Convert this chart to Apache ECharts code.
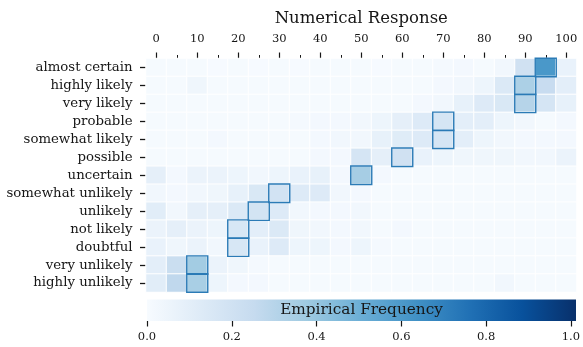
<!DOCTYPE html>
<html>
<head>
<meta charset="utf-8">
<script src="https://cdn.jsdelivr.net/npm/echarts@6/dist/echarts.min.js"></script>
<style>
  html, body { margin: 0; padding: 0; background: #ffffff; }
  #chart { width: 583px; height: 347px; }
</style>
</head>
<body>
<div id="chart"></div>
<script>
// Probability phrases, listed top to bottom
const phrases = [
  'almost certain', 'highly likely', 'very likely', 'probable',
  'somewhat likely', 'possible', 'uncertain', 'somewhat unlikely',
  'unlikely', 'not likely', 'doubtful', 'very unlikely', 'highly unlikely'
];

// Numerical response bins (0 to 100 in steps of 5)
const responseBins = ['0', '5', '10', '15', '20', '25', '30', '35', '40', '45', '50',
  '55', '60', '65', '70', '75', '80', '85', '90', '95', '100'];

// Empirical frequency of each response bin, one array per phrase
const freqAlmostCertain    = [0.01, 0.01, 0.01, 0.005, 0.01, 0.005, 0.01, 0.005, 0.01, 0.01, 0.01, 0.005, 0.01, 0.01, 0.015, 0.02, 0.01, 0.03, 0.20, 0.60, 0.07];
const freqHighlyLikely     = [0.01, 0.01, 0.04, 0.01, 0.01, 0.01, 0.01, 0.01, 0.01, 0.01, 0.01, 0.01, 0.01, 0.01, 0.02, 0.03, 0.05, 0.14, 0.33, 0.24, 0.10];
const freqVeryLikely       = [0.01, 0.01, 0.01, 0.01, 0.01, 0.01, 0.01, 0.01, 0.01, 0.01, 0.01, 0.01, 0.01, 0.02, 0.03, 0.08, 0.13, 0.15, 0.30, 0.17, 0.08];
const freqProbable         = [0.01, 0.01, 0.01, 0.01, 0.01, 0.01, 0.01, 0.015, 0.02, 0.02, 0.03, 0.05, 0.09, 0.13, 0.17, 0.10, 0.10, 0.05, 0.03, 0.01, 0.02];
const freqSomewhatLikely   = [0.01, 0.01, 0.01, 0.02, 0.01, 0.01, 0.01, 0.01, 0.02, 0.03, 0.03, 0.08, 0.12, 0.13, 0.17, 0.10, 0.05, 0.03, 0.02, 0.02, 0.02];
const freqPossible         = [0.01, 0.01, 0.01, 0.01, 0.01, 0.01, 0.01, 0.01, 0.02, 0.02, 0.17, 0.09, 0.20, 0.07, 0.05, 0.04, 0.04, 0.04, 0.03, 0.03, 0.06];
const freqUncertain        = [0.09, 0.02, 0.06, 0.06, 0.05, 0.03, 0.05, 0.07, 0.08, 0.02, 0.35, 0.02, 0.01, 0.01, 0.01, 0.01, 0.01, 0.01, 0.01, 0.01, 0.01];
const freqSomewhatUnlikely = [0.03, 0.02, 0.03, 0.04, 0.08, 0.15, 0.19, 0.13, 0.13, 0.03, 0.02, 0.01, 0.01, 0.01, 0.01, 0.01, 0.01, 0.01, 0.01, 0.01, 0.01];
const freqUnlikely         = [0.11, 0.03, 0.09, 0.09, 0.14, 0.18, 0.13, 0.03, 0.02, 0.02, 0.03, 0.01, 0.01, 0.01, 0.01, 0.01, 0.01, 0.01, 0.01, 0.01, 0.01];
const freqNotLikely        = [0.06, 0.09, 0.06, 0.05, 0.16, 0.10, 0.14, 0.04, 0.03, 0.02, 0.03, 0.01, 0.02, 0.01, 0.01, 0.01, 0.01, 0.01, 0.01, 0.01, 0.01];
const freqDoubtful         = [0.07, 0.04, 0.06, 0.03, 0.16, 0.07, 0.13, 0.05, 0.05, 0.02, 0.05, 0.015, 0.01, 0.01, 0.01, 0.01, 0.01, 0.01, 0.01, 0.01, 0.01];
const freqVeryUnlikely     = [0.10, 0.23, 0.36, 0.06, 0.04, 0.015, 0.01, 0.01, 0.01, 0.01, 0.01, 0.01, 0.01, 0.01, 0.01, 0.01, 0.01, 0.01, 0.01, 0.01, 0.01];
const freqHighlyUnlikely   = [0.11, 0.27, 0.34, 0.05, 0.02, 0.02, 0.01, 0.01, 0.01, 0.01, 0.01, 0.01, 0.01, 0.01, 0.01, 0.01, 0.01, 0.03, 0.01, 0.01, 0.01];

// Most frequent response bin for each phrase (outlined cells)
const modeBins = ['95', '90', '90', '70', '70', '60', '50', '30', '25', '20', '20', '10', '10'];

// Colour-bar ticks
const colorbarTicks = [0, 0.2, 0.4, 0.6, 0.8, 1.0];

const freqRows = [
  freqAlmostCertain, freqHighlyLikely, freqVeryLikely, freqProbable,
  freqSomewhatLikely, freqPossible, freqUncertain, freqSomewhatUnlikely,
  freqUnlikely, freqNotLikely, freqDoubtful, freqVeryUnlikely, freqHighlyUnlikely
];

const heatData = [];
freqRows.forEach((row, r) => row.forEach((v, c) => heatData.push([c, r, v])));
const modeData = modeBins.map((b, r) => {
  const c = responseBins.indexOf(b);
  return [c, r, freqRows[r][c]];
});

const SERIF = '"DejaVu Serif", "Liberation Serif", serif';
const INK = '#161616';
// "Blues" sequential colour scale
const blues = ['#f7fbff', '#deebf7', '#c6dbef', '#9ecae1', '#6baed6', '#4292c6', '#2171b5', '#08519c', '#08306b'];

// Colour-bar geometry
const BAR = { left: 147, top: 299.5, width: 429, height: 21.5 };

const chart = echarts.init(document.getElementById('chart'), null, { renderer: 'canvas' });
chart.setOption({
  animation: false,
  backgroundColor: '#ffffff',
  grid: [
    { left: 146, right: 6.5, top: 58.5, height: 233.5 },
    { left: BAR.left, width: BAR.width, top: BAR.top, height: BAR.height }
  ],
  xAxis: [
    {
      type: 'category', gridIndex: 0, position: 'top', data: responseBins,
      axisLine: { show: false },
      axisTick: { show: true, alignWithLabel: true, interval: 0, length: 3.5, lineStyle: { color: INK, width: 1 } },
      axisLabel: { interval: 1, margin: 13, fontFamily: SERIF, fontSize: 11.5, color: INK },
      splitLine: { show: false },
      name: 'Numerical Response', nameLocation: 'middle', nameGap: 31,
      nameTextStyle: { fontFamily: SERIF, fontSize: 16.5, color: INK }
    },
    {
      type: 'category', gridIndex: 0, position: 'top', data: responseBins,
      axisLine: { show: false },
      axisTick: { show: true, alignWithLabel: true, interval: 1, length: 6, lineStyle: { color: INK, width: 1.2 } },
      axisLabel: { show: false },
      splitLine: { show: false }
    },
    {
      type: 'value', gridIndex: 1, position: 'bottom', min: 0, max: 1, interval: 0.2,
      axisLine: { show: false },
      axisTick: { show: true, length: 5.5, lineStyle: { color: INK, width: 1.2 } },
      axisLabel: {
        margin: 10, fontFamily: SERIF, fontSize: 11.5, color: INK,
        formatter: v => colorbarTicks.includes(+v.toFixed(1)) ? v.toFixed(1) : ''
      },
      splitLine: { show: false }
    }
  ],
  yAxis: [
    {
      type: 'category', gridIndex: 0, data: phrases, inverse: true,
      axisLine: { show: false },
      axisTick: { show: true, alignWithLabel: true, length: 6, lineStyle: { color: INK, width: 1.3 } },
      axisLabel: { margin: 13.5, fontFamily: SERIF, fontSize: 13.3, color: INK },
      splitLine: { show: false }
    },
    { type: 'value', gridIndex: 1, show: false, min: 0, max: 1 }
  ],
  visualMap: {
    type: 'continuous', seriesIndex: 0, min: 0, max: 1, show: false,
    inRange: { color: blues }
  },
  graphic: [
    {
      type: 'rect', silent: true, z: 1,
      shape: { x: BAR.left, y: BAR.top, width: BAR.width, height: BAR.height },
      style: {
        fill: new echarts.graphic.LinearGradient(0, 0, 1, 0,
          blues.map((c, i) => ({ offset: i / (blues.length - 1), color: c })))
      }
    },
    {
      type: 'text', x: BAR.left + BAR.width / 2, y: BAR.top + BAR.height / 2, silent: true, z: 100,
      style: {
        text: 'Empirical Frequency', fill: INK,
        font: '15.3px ' + SERIF, textAlign: 'center', textVerticalAlign: 'middle'
      }
    }
  ],
  series: [
    {
      type: 'heatmap', xAxisIndex: 0, yAxisIndex: 0, data: heatData,
      itemStyle: { borderColor: '#ffffff', borderWidth: 1 },
      emphasis: { disabled: true }, silent: true
    },
    {
      type: 'heatmap', xAxisIndex: 0, yAxisIndex: 0, data: modeData, z: 5,
      itemStyle: { color: 'rgba(0,0,0,0)', borderColor: '#2b7bb6', borderWidth: 1.4 },
      emphasis: { disabled: true }, silent: true
    }
  ]
});
</script>
</body>
</html>
